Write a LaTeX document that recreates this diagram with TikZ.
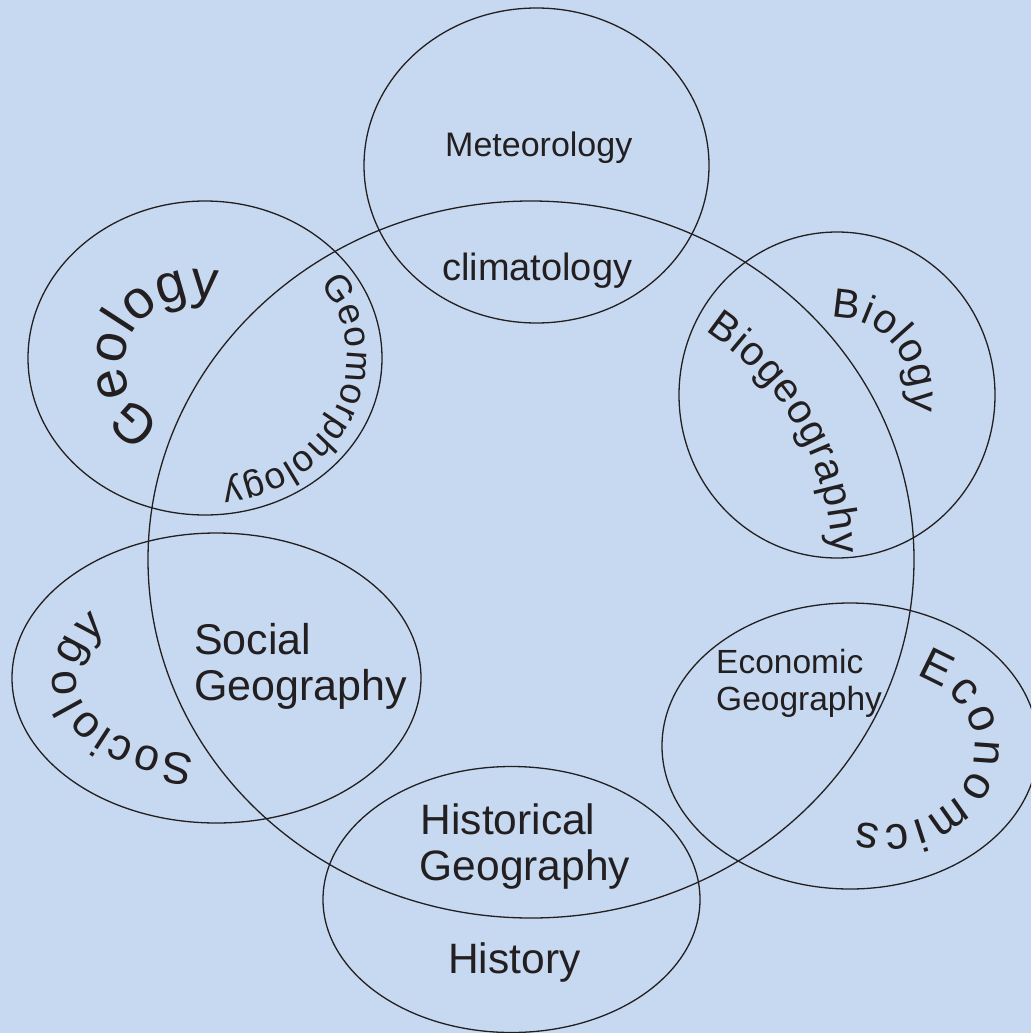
\documentclass[tikz,border=0pt]{standalone}
\usepackage{fontspec}
\setmainfont{Liberation Sans}
\usetikzlibrary{decorations.text}
\definecolor{bg}{RGB}{198,217,241}
\definecolor{ink}{RGB}{35,31,32}
\begin{document}
\begin{tikzpicture}[x=1pt,y=1pt,
  ring/.style={draw=ink, line width=1.3pt},
  lbl/.style={text=ink, inner sep=0pt, anchor=base west},
  arctext/.style={decorate, decoration={text along path, text color=ink, text align={fit to path}, #1}}]
\fill[bg] (0,0) rectangle (1031,-1033);
\useasboundingbox (0,0) rectangle (1031,-1033);
\clip (0,0) rectangle (1031,-1033);
% circles
\draw[ring] (531,-559.5) ellipse [x radius=383, y radius=358.5];
\draw[ring] (536.5,-165.5) ellipse [x radius=172.5, y radius=157.5];
\draw[ring] (205,-358) ellipse [x radius=177, y radius=157];
\draw[ring] (837,-395) ellipse [x radius=158, y radius=163];
\draw[ring] (216.5,-678) ellipse [x radius=204.5, y radius=145];
\draw[ring] (850,-746) ellipse [x radius=188, y radius=143];
\draw[ring] (511.5,-899.5) ellipse [x radius=188.5, y radius=133];
% straight labels
\node[lbl, font=\fontsize{34}{40}\selectfont] (met) at (445,-156.7) {Meteorology};
\node[lbl, font=\fontsize{38}{42}\selectfont] (cli) at (442,-280) {climatology};
\node[lbl, font=\fontsize{43}{46}\selectfont] (soc1) at (194,-654) {Social};
\node[lbl, font=\fontsize{43}{46}\selectfont] (soc2) at (194,-700.7) {Geography};
\node[lbl, font=\fontsize{42.5}{46}\selectfont] (his1) at (420.5,-834) {Historical};
\node[lbl, font=\fontsize{42.5}{46}\selectfont] (his2) at (419.5,-880) {Geography};
\node[lbl, font=\fontsize{42.5}{46}\selectfont] (hist) at (448,-973) {History};
\node[lbl, font=\fontsize{33.5}{37}\selectfont] (eco1) at (716,-673.3) {Economic};
\node[lbl, font=\fontsize{33.5}{37}\selectfont] (eco2) at (716,-710.7) {Geography};
% curved labels
\path[arctext={text={|\fontsize{54}{60}\selectfont|Geology}}]
  ([shift={(198,-364)}]-118:74 and 66) arc[start angle=-118, end angle=-285, x radius=74, y radius=66];
\path[arctext={text={|\fontsize{37}{40}\selectfont|Geomorphology}}]
  ([shift={(205,-358)}]36:142 and 126) arc[start angle=36, end angle=-83, x radius=142, y radius=126];
\path[arctext={text={|\fontsize{41}{48}\selectfont|Biology}}]
  ([shift={(837,-395)}]94:74 and 77) arc[start angle=94, end angle=-11.7, x radius=74, y radius=77];
\path[arctext={text={|\fontsize{41}{48}\selectfont|Biogeography}}]
  ([shift={(531,-560)}]54.5:301 and 281) arc[start angle=54.5, end angle=1.3, x radius=301, y radius=281];
\path[arctext={text={|\fontsize{46}{50}\selectfont|Economics}}]
  ([shift={(885,-748)}]70:90 and 77) arc[start angle=70, end angle=-107.5, x radius=90, y radius=77];
\path[arctext={text={|\fontsize{45}{50}\selectfont|Sociology}}]
  ([shift={(216,-678)}]-99:140 and 78) arc[start angle=-99, end angle=-219, x radius=140, y radius=78];
\end{tikzpicture}
\end{document}
